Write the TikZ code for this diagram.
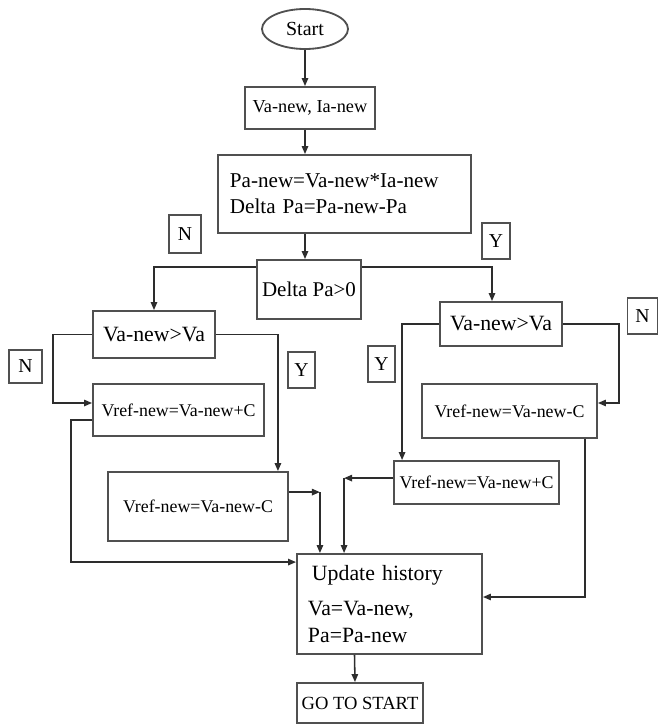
\documentclass[tikz,border=0pt]{standalone}
\usepackage{fontspec}
\setmainfont{Liberation Serif}
\usepackage{tikz}
\usetikzlibrary{shapes.geometric, arrows.meta, positioning, calc}
\usepackage{xcolor}
\definecolor{linegray}{RGB}{45,45,45}
\definecolor{boxgray}{RGB}{80,80,80}

\begin{document}
\begin{tikzpicture}[
    x=0.025cm, y=-0.025cm,
    box/.style={rectangle, draw=boxgray, line width=1.3pt, align=center,
                inner sep=2pt},
    term/.style={ellipse, draw=boxgray, line width=1.3pt, inner sep=0pt,
                 minimum width=2.15cm, minimum height=1cm,
                 font=\fontsize{14.2}{17}\selectfont},
    tag/.style={rectangle, draw=boxgray, line width=1.3pt, inner sep=0pt,
                font=\fontsize{14}{16}\selectfont},
    bigtxt/.style={font=\fontsize{15.5}{18}\selectfont},
    smalltxt/.style={font=\fontsize{12.7}{15}\selectfont},
    arr/.style={-{Triangle[length=2mm, width=1.6mm]}, draw=linegray,
                line width=1.1pt},
]
\useasboundingbox (0,0) rectangle (659,724);

% Start and measurement
\node[term] (start) at (305,29) {Start};
\node[box, minimum width=3.25cm, minimum height=1.05cm,
      font=\fontsize{13}{15}\selectfont] (meas) at (310,108) {Va-new, Ia-new};

% Power calculation
\node[box, text width=5.725cm, inner xsep=0.3cm, minimum height=1.95cm,
      align=left, font=\fontsize{15}{18.5}\selectfont]
      (power) at (344.5,194) {Pa-new=Va-new*Ia-new\\Delta Pa=Pa-new-Pa};

% Decision on Delta Pa
\node[box, font=\fontsize{14.9}{18}\selectfont, minimum width=2.6cm,
      minimum height=1.475cm] (dp) at (309,289.5) {Delta Pa>0};

% Voltage comparisons
\node[box, bigtxt, minimum width=3.05cm, minimum height=1.175cm]
      (lcmp) at (154,334.5) {Va-new>Va};
\node[box, bigtxt, minimum width=3.05cm, minimum height=1.1cm]
      (rcmp) at (501,324) {Va-new>Va};

% Reference updates
\node[box, smalltxt, minimum width=4.275cm, minimum height=1.3cm]
      (linc) at (178.5,410) {Vref-new=Va-new+C};
\node[box, smalltxt, minimum width=4.375cm, minimum height=1.35cm]
      (rdec) at (509.5,411) {Vref-new=Va-new-C};
\node[box, smalltxt, minimum width=4.5cm, minimum height=1.725cm]
      (ldec) at (198,506.5) {Vref-new=Va-new-C};
\node[box, smalltxt, minimum width=4.125cm, minimum height=1.075cm]
      (rinc) at (476.5,482.5) {Vref-new=Va-new+C};

% History and restart
\node[box, text width=4.075cm, inner xsep=0.275cm, minimum height=2.5cm,
      align=left, font=\fontsize{15.5}{19.2}\selectfont]
      (upd) at (389.5,604) {\hspace{0.1cm}Update history\\[5.7pt]Va=Va-new,\\Pa=Pa-new};
\node[box, minimum width=3.15cm, minimum height=1cm,
      font=\fontsize{13.2}{15}\selectfont] (restart) at (360,703) {GO TO START};

% Branch tags
\node[tag, minimum width=0.8cm, minimum height=0.95cm] (n1) at (185,234) {N};
\node[tag, minimum width=0.7cm, minimum height=0.9cm] (y1) at (496,241) {Y};
\node[tag, minimum width=0.825cm, minimum height=0.825cm] (n2) at (25.5,366.5) {N};
\node[tag, minimum width=0.675cm, minimum height=0.9cm] (y2) at (301.5,370) {Y};
\node[tag, minimum width=0.675cm, minimum height=0.9cm] (y3) at (381.5,364) {Y};
\node[tag, minimum width=0.75cm, minimum height=0.9cm] (n3) at (642.5,316) {N};

% Main flow arrows
\draw[arr] (start.south) -- (start.south |- meas.north);
\draw[arr] (start.south |- meas.south) -- (start.south |- power.north);
\draw[arr] (start.south |- power.south) -- (start.south |- dp.north);
\draw[arr] ([yshift=-0.2cm]dp.north west) -| (lcmp.north);
\draw[arr] ([yshift=-0.2cm]dp.north east) -| ([xshift=-0.225cm]rcmp.north);

% Left branch
\draw[arr] (lcmp.west) -- ++(-39,0) |- ([yshift=0.175cm]linc.west);
\draw[arr] (lcmp.east) -| ([xshift=-0.275cm]ldec.north east);
\draw[arr] ([yshift=-0.25cm]linc.west) -- ++(-21,0) |- ([yshift=-0.225cm]upd.north west);
\draw[arr] ([yshift=0.36cm]ldec.east) -- ++(31,0) coordinate (ljoin);
\draw[arr] (ljoin) -- (ljoin |- upd.north);

% Right branch
\draw[arr] (rcmp.west) -| ([xshift=0.225cm]rinc.north west);
\draw[arr] (rcmp.east) -- ++(56,0) |- ([yshift=0.2cm]rdec.east);
\draw[arr] ([yshift=0.11cm]rinc.west) -- ++(-49,0) coordinate (rjoin);
\draw[arr] (rjoin) -- (rjoin |- upd.north);
\draw[arr] ([xshift=-0.325cm]rdec.south east) |- ([yshift=0.175cm]upd.east);

% Back to start
\draw[arr] ([xshift=-0.875cm]upd.south) -- ([xshift=-0.125cm]restart.north);

\end{tikzpicture}
\end{document}
